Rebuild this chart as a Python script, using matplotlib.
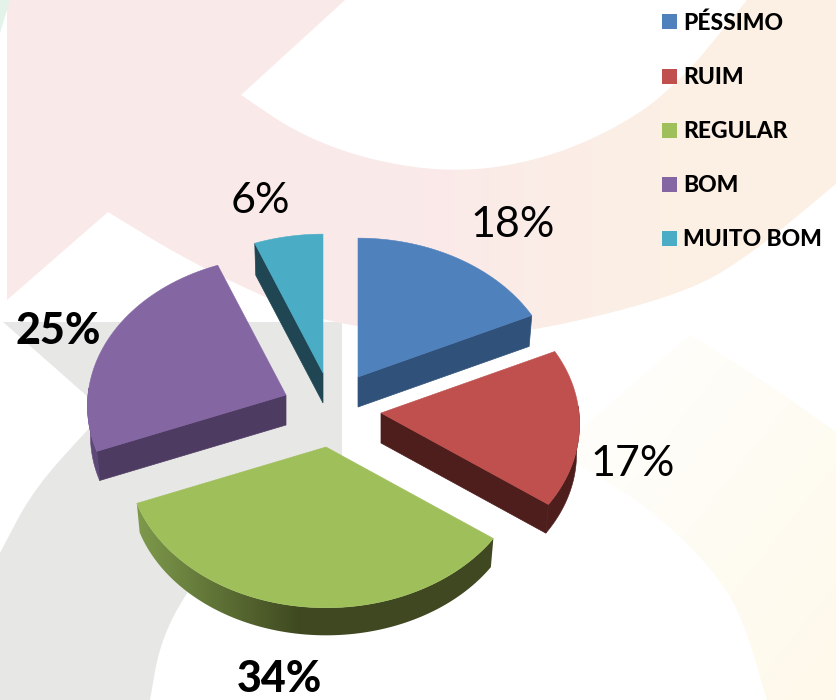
import numpy as np
import matplotlib
matplotlib.use("Agg")
import matplotlib.pyplot as plt
from matplotlib.patches import Polygon, Rectangle

CATEGORIES = ["PÉSSIMO", "RUIM", "REGULAR", "BOM", "MUITO BOM"]
VALUES = [18, 17, 34, 25, 6]
BOLD_LABEL = [False, False, True, True, False]

TOP_COLORS = ["#4f81bd", "#c0504d", "#9fbf5b", "#8466a3", "#4bacc6"]
SIDE_COLORS = ["#30527a", "#4d1e1c", "#3f4820", "#4e3b62", "#1f4652"]
RIM_COLORS = ["#30527a", "#4d1e1c", "#3f4820", "#5e4878", "#1f4652"]

# slice apex in pixels, top surface
APEX = [(358, 377), (381, 413), (326, 447), (286, 395), (323, 373)]
LABEL_POS = [(513, 225), (633, 464), (279, 679), (58, 331), (260, 201)]
LEGEND_Y = [21.5, 76, 130, 184, 238]

RX = 198
RY = 149
PERSP = 0.073
DEPTH = 30
SHRINK = 0.985
FONT = "Lato"


def smooth(pts, n=4):
    # corner cutting, keeps both ends
    pts = np.array(pts, dtype=float)
    for _ in range(n):
        q = pts[:-1] * 0.75 + pts[1:] * 0.25
        r = pts[:-1] * 0.25 + pts[1:] * 0.75
        mid = np.empty((len(q) * 2, 2))
        mid[0::2] = q
        mid[1::2] = r
        pts = np.vstack([pts[:1], mid, pts[-1:]])
    return pts


def project(apex, t):
    s = 1 / (1 + PERSP * np.cos(t))
    return np.column_stack([apex[0] + RX * np.sin(t) * s,
                            apex[1] - RY * np.cos(t) * s])


def gradient_fill(ax, poly, c0, c1, x0, x1, y0=None, y1=None, zorder=1):
    # horizontal ramp, or diagonal when y0/y1 are given
    xx, yy = np.meshgrid(np.arange(0, 837), np.arange(0, 700))
    f = (xx - x0) / (x1 - x0)
    if y0 is not None:
        f = (f + (yy - y0) / (y1 - y0)) / 2
    f = np.clip(f, 0, 1)[..., None]
    a = np.array(matplotlib.colors.to_rgb(c0))
    b = np.array(matplotlib.colors.to_rgb(c1))
    im = ax.imshow(a * (1 - f) + b * f, extent=(0, 837, 700, 0), aspect="auto",
                   zorder=zorder, interpolation="bilinear")
    patch = Polygon(poly, closed=True, transform=ax.transData, fc="none", ec="none")
    ax.add_patch(patch)
    im.set_clip_path(patch)


fig = plt.figure(figsize=(8.37, 7), dpi=100)
ax = fig.add_axes([0, 0, 1, 1])

# background artwork
gray = np.vstack([
    [(3, 322), (342, 322), (342, 455)],
    smooth([(342, 455), (250, 510), (187, 590), (160, 643), (150, 700)]),
    [(0, 700)],
    smooth([(0, 553), (33, 490), (90, 427), (105, 412)]),
])
ax.add_patch(Polygon(gray, closed=True, fc="#e7e7e6", ec="none", zorder=1))

band = np.vstack([
    [(7, 0), (345, 0), (241, 95)],
    smooth([(241, 95), (300, 135), (375, 162), (463, 173), (553, 157),
            (637, 117), (687, 73), (720, 33), (747, 0)]),
    [(837, 0)],
    smooth([(837, 183), (753, 253), (687, 293), (543, 330), (450, 338),
            (343, 325), (293, 310), (190, 262), (108, 212)]),
    [(7, 300)],
])
gradient_fill(ax, band, "#fae9e9", "#fcf0e5", 420, 660, zorder=2)

arrow = np.vstack([
    [(690, 335)],
    smooth([(690, 335), (770, 385), (837, 433)]),
    [(837, 700), (767, 700)],
    smooth([(767, 700), (745, 625), (720, 577), (653, 510), (577, 463)]),
    [(580, 430)],
])
gradient_fill(ax, arrow, "#fffefb", "#fef9ea", 600, 837, 400, 700, zorder=2)

ax.add_patch(Polygon([(0, 0), (10, 0), (0, 33)], closed=True, fc="#e4f3ea", ec="none", zorder=2))

# pie slices, angles come from the values
total = sum(VALUES)
edges = np.radians(np.cumsum([0] + VALUES) / total * 360)
for i, v in enumerate(VALUES):
    t = np.linspace(edges[i], edges[i + 1], 120)
    arc = project(APEX[i], t)
    apex = np.array(APEX[i], dtype=float)
    low = apex + (arc - apex) * SHRINK + np.array([0, DEPTH])
    low_apex = apex + np.array([0, DEPTH])
    z = 5

    # radial faces, only the ones turned to the viewer
    if np.sin(edges[i]) < -1e-6:
        ax.add_patch(Polygon([apex, arc[0], low[0], low_apex], closed=True,
                             fc=SIDE_COLORS[i], ec=SIDE_COLORS[i], lw=0.5, zorder=z))
    if np.sin(edges[i + 1]) > 1e-6:
        ax.add_patch(Polygon([apex, arc[-1], low[-1], low_apex], closed=True,
                             fc=SIDE_COLORS[i], ec=SIDE_COLORS[i], lw=0.5, zorder=z))

    # outer rim, front half of the ellipse only
    front = np.cos(t) < 0.05
    if front.sum() > 1:
        rim = np.vstack([arc[front], low[front][::-1]])
        if CATEGORIES[i] == "REGULAR":
            gradient_fill(ax, rim, "#7e9a4c", SIDE_COLORS[i], 137, 300, zorder=z)
        else:
            ax.add_patch(Polygon(rim, closed=True, fc=RIM_COLORS[i], ec=RIM_COLORS[i], lw=0.4, zorder=z))

    ax.add_patch(Polygon(np.vstack([apex, arc]), closed=True, fc=TOP_COLORS[i],
                         ec=TOP_COLORS[i], lw=0.4, zorder=z + 1))

    ax.text(LABEL_POS[i][0], LABEL_POS[i][1], f"{v}%", ha="center", va="center",
            fontsize=31, family=FONT, fontweight=900 if BOLD_LABEL[i] else "normal",
            color="black", zorder=8)

# legend
for name, col, y in zip(CATEGORIES, TOP_COLORS, LEGEND_Y):
    ax.add_patch(Rectangle((662, y - 7.5), 15, 15, fc=col, ec="none", zorder=8))
    ax.text(683, y, name, ha="left", va="center_baseline", fontsize=16.5, family=FONT,
            fontweight=900, color="black", zorder=8)

ax.set_xlim(0, 837)
ax.set_ylim(700, 0)
ax.axis("off")

plt.savefig("out.png", dpi=100)
